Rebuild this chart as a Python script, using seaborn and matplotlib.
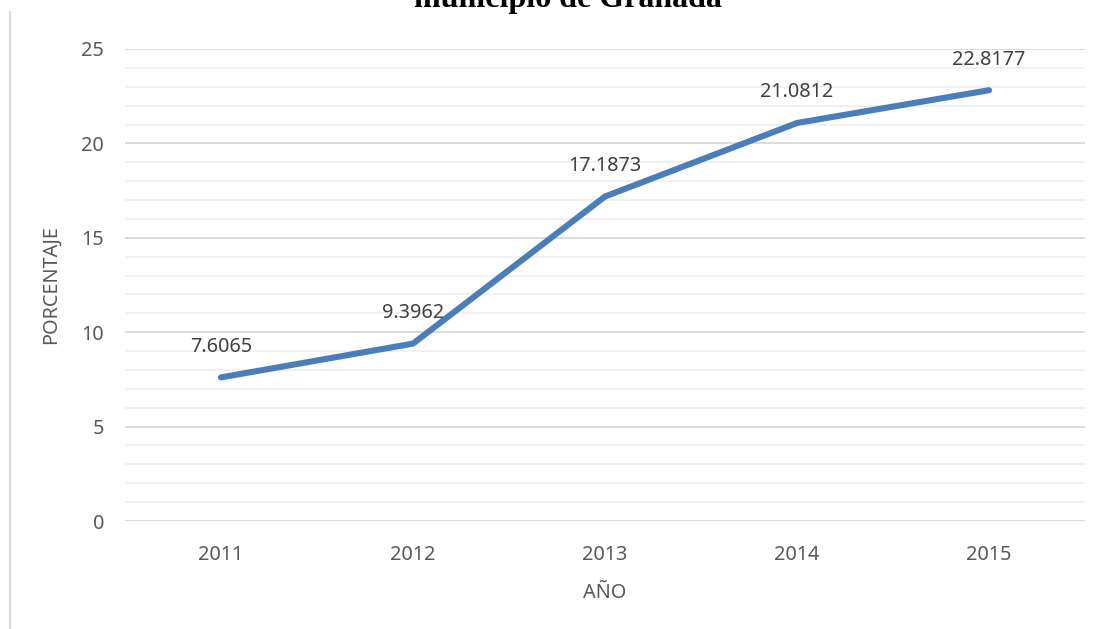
import matplotlib
matplotlib.use('Agg')
import matplotlib.pyplot as plt
import seaborn as sns
import pandas as pd
from matplotlib.lines import Line2D
from matplotlib.ticker import MultipleLocator

years = ['2011', '2012', '2013', '2014', '2015']
porcentaje = [7.6065, 9.3962, 17.1873, 21.0812, 22.8177]

df = pd.DataFrame({'AÑO': years, 'PORCENTAJE': porcentaje})

sns.set_style('white')
plt.rcParams['font.family'] = ['Noto Sans', 'DejaVu Sans']

fig = plt.figure(figsize=(10.99, 6.29), dpi=100)
ax = fig.add_axes([0.1137, 0.1717, 0.8736, 0.7504])

sns.lineplot(data=df, x='AÑO', y='PORCENTAJE', ax=ax, color='#4a7ebb',
             linewidth=4.4, solid_capstyle='round', solid_joinstyle='round',
             sort=False, zorder=3)

# etiquetas de datos
for i, v in enumerate(porcentaje):
    ax.annotate(str(v), (i, v), xytext=(0, 22), textcoords='offset points',
                ha='center', va='center', fontsize=14.3, color='#404040')

ax.set_xlim(-0.5, 4.5)
ax.set_ylim(0, 25)
ax.yaxis.set_major_locator(MultipleLocator(5))
ax.yaxis.set_minor_locator(MultipleLocator(1))
ax.grid(which='major', axis='y', color='#d9d9d9', linewidth=1.3)
ax.grid(which='minor', axis='y', color='#eeeeee', linewidth=1.1)
ax.set_axisbelow(True)

for s in ['top', 'right', 'left', 'bottom']:
    ax.spines[s].set_visible(False)

ax.tick_params(axis='both', which='both', length=0, labelsize=14.3,
               labelcolor='#595959')
ax.tick_params(axis='y', pad=15)
ax.tick_params(axis='x', pad=17)

ax.set_xlabel('AÑO', fontsize=14.3, color='#595959', labelpad=13)
ax.set_ylabel('PORCENTAJE', fontsize=14.3, color='#595959', labelpad=15)

fig.text(0.517, 0.989, 'municipio de Granada', ha='center', va='baseline',
         fontsize=23, fontweight='bold', family='Liberation Serif',
         color='black')

fig.add_artist(Line2D([10 / 1099, 10 / 1099], [0, 1 - 12 / 629],
                      transform=fig.transFigure, color='#d9d9d9', linewidth=1.5))

fig.savefig('out.png', dpi=100)
